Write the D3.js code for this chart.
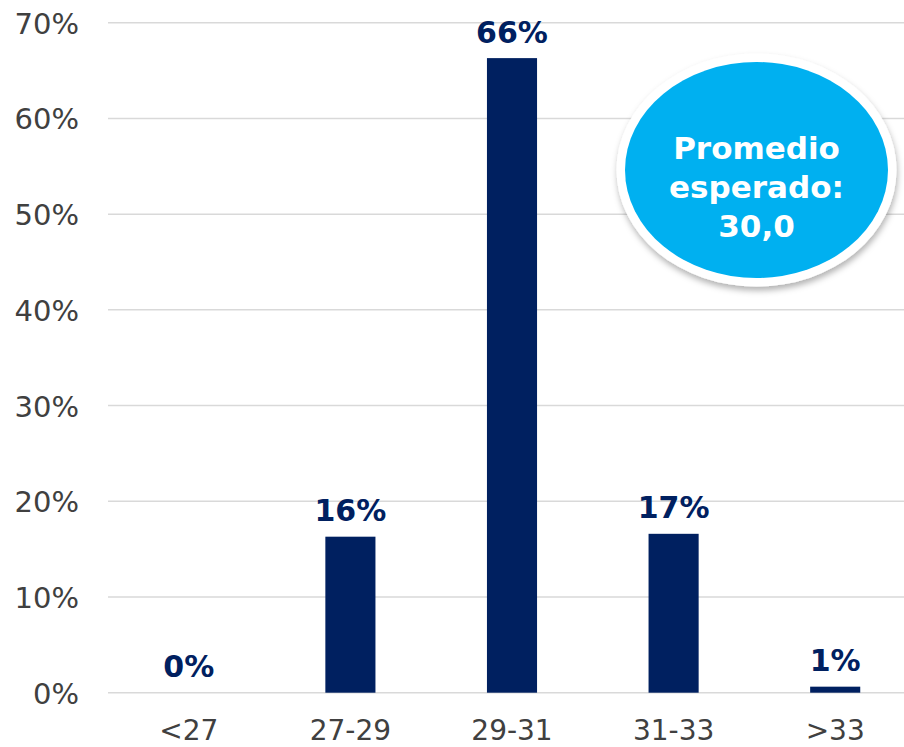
<!DOCTYPE html>
<html>
<head>
<meta charset="utf-8">
<script src="https://cdn.jsdelivr.net/npm/d3@7"></script>
<style>
  body { margin: 0; background: #fff; }
  svg { display: block; }
</style>
</head>
<body>
<div id="chart"></div>
<script>
// datos
var categorias = ["<27", "27-29", "29-31", "31-33", ">33"];
var valores = [0.0, 0.163, 0.663, 0.166, 0.0063];
var yTicks = [0, 0.1, 0.2, 0.3, 0.4, 0.5, 0.6, 0.7];
var yTickLabels = ["0%", "10%", "20%", "30%", "40%", "50%", "60%", "70%"];
var notaLineas = ["Promedio", "esperado:", "30,0"];

var width = 904, height = 747;
var navy = "#002060";

var svg = d3.select("#chart").append("svg")
  .attr("width", width)
  .attr("height", height);

var defs = svg.append("defs");
var f = defs.append("filter").attr("id", "sombra")
  .attr("x", "-20%").attr("y", "-20%").attr("width", "140%").attr("height", "150%");
f.append("feDropShadow")
  .attr("dx", 1).attr("dy", 4).attr("stdDeviation", 3)
  .attr("flood-color", "#000").attr("flood-opacity", 0.3);

var y = d3.scaleLinear().domain([0, 0.7]).range([692.7, 22.7]);
var x = d3.scaleBand().domain(categorias)
  .range([108, 916])
  .paddingInner(0.69)
  .paddingOuter(0.345);

// lineas de grilla
svg.append("g").selectAll("line")
  .data(yTicks).enter()
  .append("line")
    .attr("x1", 108)
    .attr("x2", width)
    .attr("y1", function(d) { return y(d); })
    .attr("y2", function(d) { return y(d); })
    .attr("stroke", "#d9d9d9")
    .attr("stroke-width", 1.5);

// eje y
var yAxis = svg.append("g")
  .attr("transform", "translate(108,0)")
  .call(d3.axisLeft(y).tickValues(yTicks).tickSize(0).tickPadding(29)
    .tickFormat(function(d, i) { return yTickLabels[i]; }));
yAxis.select(".domain").remove();
yAxis.selectAll("text")
  .attr("dy", "0.36em")
  .style("font-family", "'DejaVu Sans', Verdana, sans-serif")
  .style("font-size", "29px")
  .style("fill", "#404040");

// eje x
var xAxis = svg.append("g")
  .attr("transform", "translate(0," + y(0) + ")")
  .call(d3.axisBottom(x).tickSize(0));
xAxis.select(".domain").remove();
xAxis.selectAll("text")
  .attr("y", 47)
  .attr("dy", 0)
  .style("font-family", "'DejaVu Sans', Verdana, sans-serif")
  .style("font-size", "28px")
  .style("fill", "#404040");

// barras
svg.append("g").selectAll("rect")
  .data(valores).enter()
  .append("rect")
    .attr("x", function(d, i) { return x(categorias[i]); })
    .attr("y", function(d) { return y(d); })
    .attr("width", x.bandwidth())
    .attr("height", function(d) { return y(0) - y(d); })
    .style("fill", navy);

// etiquetas
var fmt = d3.format(".0%");
svg.append("g").selectAll("text")
  .data(valores).enter()
  .append("text")
    .attr("x", function(d, i) { return x(categorias[i]) + x.bandwidth() / 2; })
    .attr("y", function(d) { return y(d) - 15.5; })
    .attr("text-anchor", "middle")
    .style("font-family", "'DejaVu Sans', Verdana, sans-serif")
    .style("font-weight", "bold")
    .style("font-size", "30px")
    .style("fill", navy)
    .text(function(d) { return fmt(d); });

// ovalo con el promedio
var nota = svg.append("g");
nota.append("ellipse")
  .attr("cx", 756.5).attr("cy", 170)
  .attr("rx", 140).attr("ry", 116.5)
  .style("fill", "#fff")
  .attr("filter", "url(#sombra)");
nota.append("ellipse")
  .attr("cx", 756.5).attr("cy", 170)
  .attr("rx", 131.5).attr("ry", 108)
  .style("fill", "#00b0f0");
nota.selectAll("text")
  .data(notaLineas).enter()
  .append("text")
    .attr("x", 756.5)
    .attr("y", function(d, i) { return 159.3 + i * 38.7; })
    .attr("text-anchor", "middle")
    .style("font-family", "'DejaVu Sans', Verdana, sans-serif")
    .style("font-weight", "bold")
    .style("font-size", "31px")
    .style("fill", "#fff")
    .text(function(d) { return d; });
</script>
</body>
</html>
